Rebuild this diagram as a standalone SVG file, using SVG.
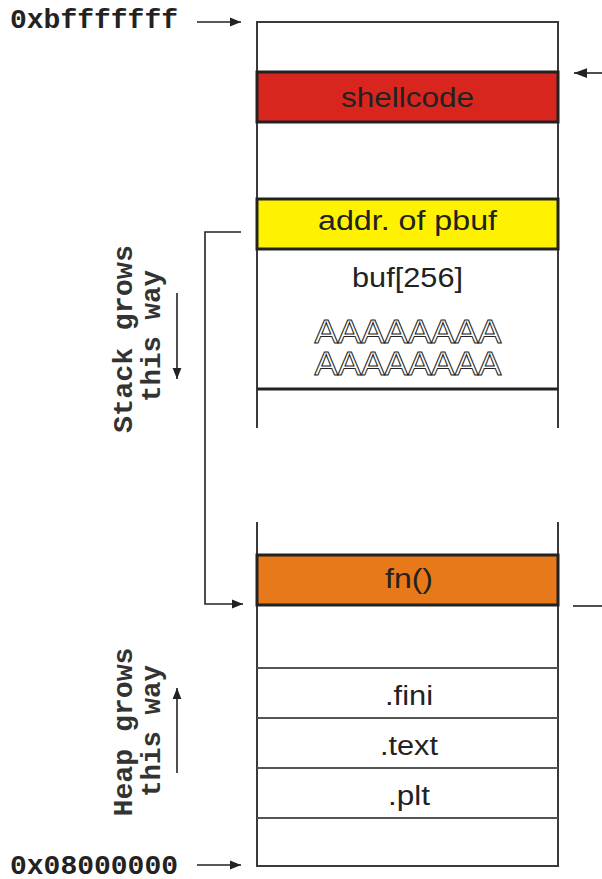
<svg xmlns="http://www.w3.org/2000/svg" width="602" height="879" viewBox="0 0 602 879">
  <defs>
    <marker id="head" viewBox="0 0 10 10" refX="10" refY="5" markerWidth="11" markerHeight="11" markerUnits="userSpaceOnUse" orient="auto">
      <path d="M0,1 L10,5 L0,9 Z" fill="#222"/>
    </marker>
    <marker id="headLg" viewBox="0 0 12 10" refX="12" refY="5" markerWidth="13" markerHeight="11" markerUnits="userSpaceOnUse" orient="auto">
      <path d="M0,0.5 L12,5 L0,9.5 Z" fill="#222"/>
    </marker>
  </defs>
  <style>
    .wall { stroke: #3a3a3a; stroke-width: 2; fill: none; }
    .sep { stroke: #555; stroke-width: 2; fill: none; }
    .bold { stroke: #222; stroke-width: 3; }
    .lbl { font-family: "Liberation Sans", Arial, sans-serif; font-size: 27px; fill: #222; text-anchor: middle; }
    .hollow { font-family: "Liberation Sans", Arial, sans-serif; font-size: 33px; fill: #fff; stroke: #222; stroke-width: 1; text-anchor: middle; }
    .mono { font-family: "Liberation Mono", "Courier New", monospace; font-size: 28px; font-weight: bold; fill: #222; }
    .side { font-family: "Liberation Mono", "Courier New", monospace; font-size: 28px; font-weight: bold; fill: #333; text-anchor: middle; }
    .conn { stroke: #222; stroke-width: 1.6; fill: none; }
  </style>

  <rect width="602" height="879" fill="#fff"/>

  <!-- outer walls of the memory column (with a break in the middle) -->
  <g id="column">
    <path class="wall" d="M257,428 V22 H558 V428"/>
    <path class="wall" d="M257,522 V866 H558 V522"/>
  </g>

  <g id="shellcode">
    <rect x="257" y="72" width="301" height="50" fill="#D8251E" class="bold"/>
    <text class="lbl" x="407.5" y="107" textLength="133" lengthAdjust="spacingAndGlyphs">shellcode</text>
  </g>

  <g id="addr-pbuf">
    <rect x="257" y="199" width="301" height="50" fill="#FFF200" class="bold"/>
    <text class="lbl" x="407.5" y="230" textLength="179" lengthAdjust="spacingAndGlyphs">addr. of pbuf</text>
  </g>

  <g id="buf">
    <text class="lbl" x="407.5" y="287" textLength="111" lengthAdjust="spacingAndGlyphs">buf[256]</text>
    <text class="hollow" x="408" y="343" textLength="187" lengthAdjust="spacingAndGlyphs">AAAAAAAA</text>
    <text class="hollow" x="408" y="375" textLength="187" lengthAdjust="spacingAndGlyphs">AAAAAAAA</text>
    <line x1="257" y1="389" x2="558" y2="389" class="bold"/>
  </g>

  <g id="fn">
    <rect x="257" y="555" width="301" height="50" fill="#E8791B" class="bold"/>
    <text class="lbl" x="409" y="588" textLength="48" lengthAdjust="spacingAndGlyphs">fn()</text>
  </g>

  <g id="fini">
    <line x1="257" y1="668" x2="558" y2="668" class="sep"/>
    <text class="lbl" x="409" y="705" textLength="48" lengthAdjust="spacingAndGlyphs">.fini</text>
  </g>

  <g id="text-seg">
    <line x1="257" y1="718" x2="558" y2="718" class="sep"/>
    <text class="lbl" x="409" y="755" textLength="58" lengthAdjust="spacingAndGlyphs">.text</text>
  </g>

  <g id="plt">
    <line x1="257" y1="768" x2="558" y2="768" class="sep"/>
    <text class="lbl" x="409" y="805" textLength="42" lengthAdjust="spacingAndGlyphs">.plt</text>
    <line x1="257" y1="818" x2="558" y2="818" class="sep"/>
  </g>

  <g id="addr-top">
    <text class="mono" x="10" y="28" textLength="168" lengthAdjust="spacingAndGlyphs">0xbfffffff</text>
  </g>

  <g id="addr-bottom">
    <text class="mono" x="10" y="874" textLength="168" lengthAdjust="spacingAndGlyphs">0x08000000</text>
  </g>

  <g id="stack-label">
    <text class="side" transform="translate(132,339) rotate(-90)" textLength="188" lengthAdjust="spacingAndGlyphs">Stack grows</text>
    <text class="side" transform="translate(160,336) rotate(-90)" textLength="132" lengthAdjust="spacingAndGlyphs">this way</text>
  </g>

  <g id="heap-label">
    <text class="side" transform="translate(132,732) rotate(-90)" textLength="169" lengthAdjust="spacingAndGlyphs">Heap grows</text>
    <text class="side" transform="translate(160,731) rotate(-90)" textLength="132" lengthAdjust="spacingAndGlyphs">this way</text>
  </g>

  <g id="connectors">
    <line class="conn" x1="197" y1="22" x2="241" y2="22" marker-end="url(#head)"/>
    <line class="conn" x1="197" y1="865" x2="241" y2="865" marker-end="url(#head)"/>
    <line class="conn" x1="602" y1="73" x2="574" y2="73" marker-end="url(#headLg)"/>
    <line class="conn" x1="573" y1="606" x2="602" y2="606"/>
    <path class="conn" d="M241,232 H205 V604 H243" marker-end="url(#head)"/>
    <line class="conn" x1="177" y1="293" x2="177" y2="379" marker-end="url(#head)"/>
    <line class="conn" x1="177" y1="773" x2="177" y2="688" marker-end="url(#head)"/>
  </g>
</svg>
